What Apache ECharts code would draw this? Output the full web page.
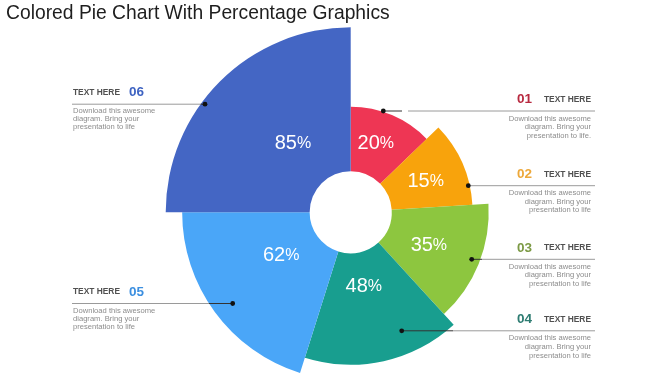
<!DOCTYPE html>
<html><head><meta charset="utf-8">
<script src="https://cdn.jsdelivr.net/npm/echarts@6/dist/echarts.min.js"></script>
<style>html,body{margin:0;padding:0;background:#fff}#c{width:666px;height:375px}</style>
</head><body><div id="c"></div>
<script>
// ---- data ----
const titleText = 'Colored Pie Chart With Percentage Graphics';
const categories = ['01', '02', '03', '04', '05', '06'];
const percentValues = [20, 15, 35, 48, 62, 85];
const sliceSweeps = [46, 40.5, 51, 60, 72.5, 90];          // angular sweep of each slice (deg)
const sliceReach = [57.1, 65.9, 74.6, 82.4, 91.1, 100];    // outer reach on radius axis (0-100)
const holeReach = 22.2;                                    // inner hole on radius axis
const blockHeading = 'TEXT HERE';
const blockBodies = [
  'Download this awesome\ndiagram. Bring your\npresentation to life.',
  'Download this awesome\ndiagram. Bring your\npresentation to life',
  'Download this awesome\ndiagram. Bring your\npresentation to life',
  'Download this awesome\ndiagram. Bring your\npresentation to life',
  'Download this awesome\ndiagram. Bring your\npresentation to life',
  'Download this awesome\ndiagram. Bring your\npresentation to life'
];

// ---- styles / layout ----
const FONT = 'Liberation Sans, Arial, sans-serif';
const sliceColors = ['#EE3654', '#F8A30C', '#8DC63F', '#189E8F', '#4AA6F8', '#4466C4'];
const numberColors = ['#B82A40', '#EDA83A', '#7C9A45', '#2E7C72', '#3C8FE0', '#3E63C2'];
// label placement per slice: [reach on radius axis, angle offset from slice middle]
const labelPlacement = [[39.7, -3], [43.7, 1.7], [45.9, 1], [40.9, 2.5], [44.3, 4.2], [48.6, 5]];

let acc = 0;
const sectorData = percentValues.map((v, i) => {
  const s = acc; acc += sliceSweeps[i];
  return [s, acc, sliceReach[i], v];
});

function renderItem(params, api) {
  const i = params.dataIndex;
  const start = api.value(0), end = api.value(1), reach = api.value(2), pct = api.value(3);
  const cs = params.coordSys;
  const inner = api.coord([holeReach, start]);
  const outer = api.coord([reach, end]);
  const lp = labelPlacement[i];
  const mid = api.coord([lp[0], (start + end) / 2 + lp[1]]);
  return {
    type: 'group',
    children: [
      {
        type: 'sector',
        shape: { cx: cs.cx, cy: cs.cy, r0: inner[2], r: outer[2], startAngle: -inner[3], endAngle: -outer[3], clockwise: true },
        style: { fill: sliceColors[i] }
      },
      {
        type: 'text', x: mid[0], y: mid[1], z2: 10,
        style: {
          text: '{n|' + pct + '}{p|%}',
          rich: {
            n: { fontSize: 20, fill: '#fff', fontFamily: FONT },
            p: { fontSize: 16, fill: '#fff', fontFamily: FONT }
          },
          fill: '#fff', align: 'center', verticalAlign: 'middle'
        }
      }
    ]
  };
}

// ---- callout layout ----
const callouts = [
  { side: 'right', dot: [383.3, 111], dark: [383.3, 402], gray: [408, 595] },
  { side: 'right', dot: [468.3, 185.7], dark: null, gray: [468.3, 595] },
  { side: 'right', dot: [471.7, 259.3], dark: [471.7, 482], gray: [482, 595] },
  { side: 'right', dot: [401.7, 330.8], dark: [401.7, 453], gray: [453, 595] },
  { side: 'left', dot: [232.7, 303.5], dark: [209, 232.7], gray: [72, 209] },
  { side: 'left', dot: [205, 104.2], dark: [200.6, 205], gray: [72, 200.6] }
];

const graphics = [];
callouts.forEach((c, i) => {
  const y = c.dot[1];
  graphics.push({ type: 'line', z: 100, shape: { x1: c.gray[0], y1: y, x2: c.gray[1], y2: y }, style: { stroke: '#9a9a9a', lineWidth: 1 } });
  if (c.dark) graphics.push({ type: 'line', z: 101, shape: { x1: c.dark[0], y1: y, x2: c.dark[1], y2: y }, style: { stroke: '#333', lineWidth: 1 } });
  graphics.push({ type: 'circle', z: 102, shape: { cx: c.dot[0], cy: y, r: 2.4 }, style: { fill: '#111' } });
  const headY = y - 11.5;
  if (c.side === 'right') {
    graphics.push({ type: 'text', z: 100, x: 532, y: headY, style: { text: categories[i], fill: numberColors[i], fontSize: 13.5, fontWeight: 'bold', fontFamily: FONT, align: 'right', verticalAlign: 'middle' } });
    graphics.push({ type: 'text', z: 100, x: 544, y: headY, style: { text: blockHeading, fill: '#505050', fontSize: 8.4, fontWeight: 'bold', fontFamily: FONT, align: 'left', verticalAlign: 'middle' } });
    graphics.push({ type: 'text', z: 100, x: 591, y: y + 3.2, style: { text: blockBodies[i], fill: '#8c8c8c', fontSize: 7.6, lineHeight: 8.6, fontFamily: FONT, align: 'right', verticalAlign: 'top' } });
  } else {
    graphics.push({ type: 'text', z: 100, x: 73, y: headY, style: { text: blockHeading, fill: '#505050', fontSize: 8.4, fontWeight: 'bold', fontFamily: FONT, align: 'left', verticalAlign: 'middle' } });
    graphics.push({ type: 'text', z: 100, x: 129, y: headY, style: { text: categories[i], fill: numberColors[i], fontSize: 13.5, fontWeight: 'bold', fontFamily: FONT, align: 'left', verticalAlign: 'middle' } });
    graphics.push({ type: 'text', z: 100, x: 73, y: y + 3.2, style: { text: blockBodies[i], fill: '#8c8c8c', fontSize: 7.6, lineHeight: 7.9, fontFamily: FONT, align: 'left', verticalAlign: 'top' } });
  }
});

const chart = echarts.init(document.getElementById('c'), null, { renderer: 'canvas' });
chart.setOption({
  animation: false,
  backgroundColor: '#fff',
  title: {
    text: titleText, left: 6, top: 4, padding: 0,
    textStyle: { fontSize: 19.3, fontWeight: 'normal', color: '#1e1e1e', fontFamily: FONT }
  },
  polar: { center: [350.7, 212.3], radius: [0, 185] },
  angleAxis: {
    type: 'value', min: 0, max: 360, startAngle: 90, clockwise: true, show: false,
    axisLine: { show: false }, axisTick: { show: false }, axisLabel: { show: false }, splitLine: { show: false }
  },
  radiusAxis: {
    type: 'value', min: 0, max: 100, show: false,
    axisLine: { show: false }, axisTick: { show: false }, axisLabel: { show: false }, splitLine: { show: false }
  },
  series: [{
    type: 'custom',
    coordinateSystem: 'polar',
    renderItem: renderItem,
    data: sectorData,
    silent: true
  }],
  graphic: { elements: graphics }
});
</script>
</body></html>
